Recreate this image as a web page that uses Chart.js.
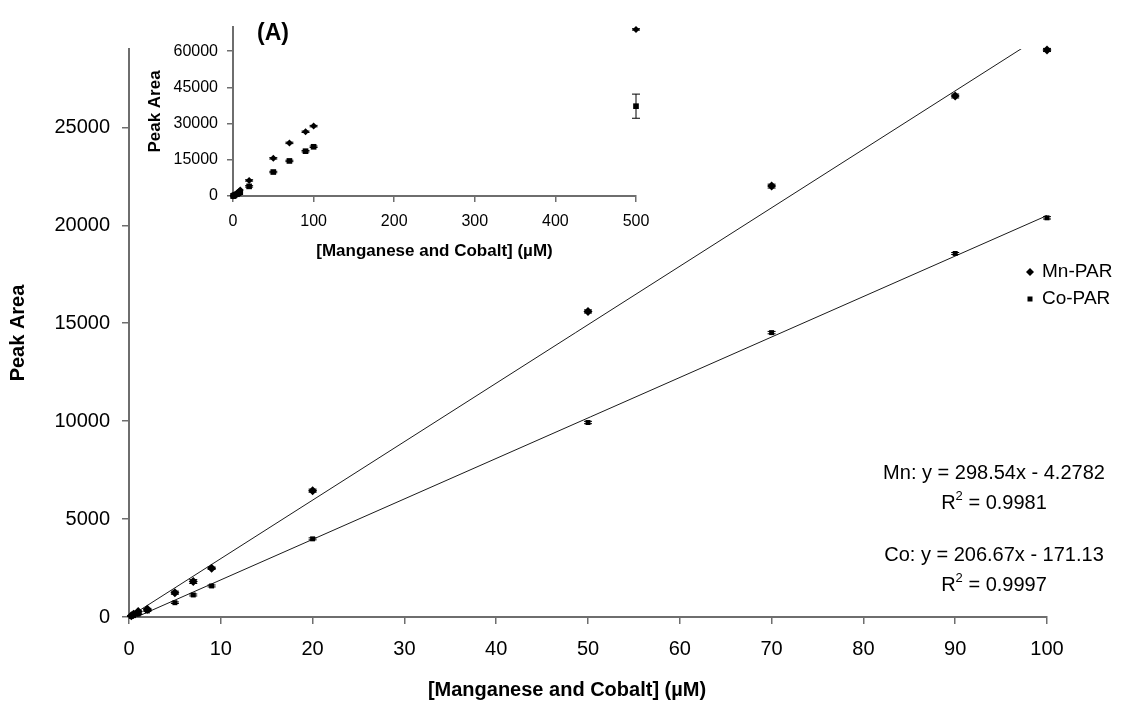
<!DOCTYPE html>
<html>
<head>
<meta charset="utf-8">
<script src="https://cdn.jsdelivr.net/npm/chart.js@4"></script>
<style>
  html, body { margin: 0; padding: 0; background: #fff; }
  #wrap { position: relative; width: 1136px; height: 709px; }
  #main { position: absolute; left: 0; top: 0; }
  #inset { position: absolute; left: 120px; top: 0; }
</style>
</head>
<body>
<div id="wrap">
  <canvas id="main" width="1136" height="709"></canvas>
  <canvas id="inset" width="540" height="270"></canvas>
</div>
<script>
// concentracoes (uM) e areas de pico
const concentracoes = [0.25, 0.5, 1, 2, 5, 7, 9, 20, 50, 70, 90, 100];
const mnArea = [60, 140, 280, 400, 1240, 1810, 2490, 6450, 15600, 22000, 26600, 28950];
const coArea = [30, 70, 150, 310, 730, 1125, 1585, 3990, 9930, 14520, 18560, 20380];
const mnErro = [10, 10, 20, 40, 80, 100, 60, 80, 80, 100, 100, 80];
const coErro = [10, 10, 20, 30, 40, 50, 50, 50, 60, 60, 50, 60];

// linhas de tendencia (extremos)
const tendX = [0, 100];
const mnTend = [-4.28, 29849.7];
const coTend = [-171.13, 20495.9];

// grafico (A) ate 500 uM
const insetConc = [0.25, 0.5, 1, 2, 5, 7, 9, 20, 50, 70, 90, 100, 500];
const insetMn = [60, 140, 280, 400, 1240, 1810, 2490, 6450, 15600, 22000, 26600, 28950, 69000];
const insetCo = [30, 70, 150, 310, 730, 1125, 1585, 3990, 9930, 14520, 18560, 20380, 37200];
const insetMnErro = [0, 0, 0, 0, 0, 0, 0, 300, 300, 300, 300, 300, 300];
const insetCoErro = [0, 0, 0, 0, 0, 0, 0, 300, 300, 300, 300, 300, 5000];

const xTicksMain = [0, 10, 20, 30, 40, 50, 60, 70, 80, 90, 100];
const yTicksMain = [0, 5000, 10000, 15000, 20000, 25000];
const xTicksInset = [0, 100, 200, 300, 400, 500];
const yTicksInset = [0, 15000, 30000, 45000, 60000];

const fam = '"Liberation Sans", Arial, sans-serif';
const corEixo = '#6e6e6e';

function pares(xs, ys) {
    return xs.map((x, i) => ({ x: x, y: ys[i] }));
}

const pluginErro = {
    id: 'barrasErro',
    afterDatasetsDraw(chart, args, opts) {
        const ctx = chart.ctx;
        const ey = chart.scales.y;
        chart.data.datasets.forEach((ds, i) => {
            if (!ds.erros) return;
            const meta = chart.getDatasetMeta(i);
            ctx.save();
            ctx.strokeStyle = '#000';
            ctx.lineWidth = 1;
            meta.data.forEach((pt, j) => {
                const e = ds.erros[j];
                if (!e) return;
                const v = ds.data[j].y;
                const y1 = ey.getPixelForValue(v - e);
                const y2 = ey.getPixelForValue(v + e);
                const w = opts.cap;
                ctx.beginPath();
                ctx.moveTo(pt.x, y1); ctx.lineTo(pt.x, y2);
                ctx.moveTo(pt.x - w, y1); ctx.lineTo(pt.x + w, y1);
                ctx.moveTo(pt.x - w, y2); ctx.lineTo(pt.x + w, y2);
                ctx.stroke();
            });
            ctx.restore();
        });
    }
};

function textoR2(ctx, cx, cy, valor) {
    const normal = '20px ' + fam;
    const sup = '13px ' + fam;
    ctx.font = normal;
    const wR = ctx.measureText('R').width;
    const wResto = ctx.measureText(' = ' + valor).width;
    ctx.font = sup;
    const w2 = ctx.measureText('2').width;
    let x = cx - (wR + w2 + wResto) / 2;
    ctx.textAlign = 'left';
    ctx.textBaseline = 'middle';
    ctx.font = normal;
    ctx.fillText('R', x, cy);
    x += wR;
    ctx.font = sup;
    ctx.fillText('2', x, cy - 7);
    x += w2;
    ctx.font = normal;
    ctx.fillText(' = ' + valor, x, cy);
}

const pluginTextos = {
    id: 'textosMain',
    afterDraw(chart) {
        const ctx = chart.ctx;
        ctx.save();
        ctx.fillStyle = '#000';
        ctx.textAlign = 'center';
        ctx.textBaseline = 'middle';
        ctx.font = 'bold 20px ' + fam;
        ctx.fillText('[Manganese and Cobalt] (\u00b5M)', 567, 690);

        // legenda
        ctx.beginPath();
        ctx.moveTo(1030, 268); ctx.lineTo(1034, 272); ctx.lineTo(1030, 276); ctx.lineTo(1026, 272);
        ctx.closePath();
        ctx.fill();
        ctx.fillRect(1027.5, 296.5, 5, 5);
        ctx.textAlign = 'left';
        ctx.font = '19px ' + fam;
        ctx.fillText('Mn-PAR', 1042, 272);
        ctx.fillText('Co-PAR', 1042, 299);

        // equacoes
        ctx.textAlign = 'center';
        ctx.font = '20px ' + fam;
        ctx.fillText('Mn: y = 298.54x - 4.2782', 994, 473);
        textoR2(ctx, 994, 503, '0.9981');
        ctx.textAlign = 'center';
        ctx.font = '20px ' + fam;
        ctx.fillText('Co: y = 206.67x - 171.13', 994, 555);
        textoR2(ctx, 994, 585, '0.9997');
        ctx.restore();
    }
};

const pluginLetra = {
    id: 'letraA',
    afterDraw(chart) {
        const ctx = chart.ctx;
        ctx.save();
        ctx.fillStyle = '#000';
        ctx.textAlign = 'center';
        ctx.textBaseline = 'middle';
        ctx.font = 'bold 23px ' + fam;
        ctx.fillText('(A)', 153, 34);
        ctx.restore();
    }
};

new Chart(document.getElementById('main'), {
    type: 'scatter',
    data: {
        datasets: [{
            label: 'Mn-PAR',
            data: pares(concentracoes, mnArea),
            erros: mnErro,
            pointStyle: 'rectRot',
            pointRadius: 4.5,
            backgroundColor: '#000',
            borderColor: '#000',
            borderWidth: 0,
            clip: false
        }, {
            label: 'Co-PAR',
            data: pares(concentracoes, coArea),
            erros: coErro,
            pointStyle: 'rect',
            pointRadius: 3.5,
            backgroundColor: '#000',
            borderColor: '#000',
            borderWidth: 0,
            clip: false
        }, {
            type: 'line',
            data: pares(tendX, mnTend),
            borderColor: '#1a1a1a',
            borderWidth: 1,
            pointRadius: 0,
            fill: false
        }, {
            type: 'line',
            data: pares(tendX, coTend),
            borderColor: '#1a1a1a',
            borderWidth: 1,
            pointRadius: 0,
            fill: false
        }]
    },
    options: {
        responsive: false,
        animation: false,
        layout: { padding: { left: 0, top: 49, right: 89, bottom: 0 } },
        plugins: {
            legend: { display: false },
            tooltip: { enabled: false },
            barrasErro: { cap: 4 }
        },
        scales: {
            x: {
                type: 'linear',
                min: 0,
                max: 100,
                afterBuildTicks: s => { s.ticks = xTicksMain.map(v => ({ value: v })); },
                afterFit: s => { s.height = 92; },
                grid: { drawOnChartArea: false, drawTicks: true, tickLength: 7, color: corEixo, lineWidth: 1.5 },
                border: { color: corEixo, width: 2 },
                ticks: { color: '#000', font: { family: fam, size: 20 }, padding: 13, maxRotation: 0, callback: v => String(v) }
            },
            y: {
                min: 0,
                max: 29000,
                afterBuildTicks: s => { s.ticks = yTicksMain.map(v => ({ value: v })); },
                afterFit: s => { s.width = 129; },
                grid: { drawOnChartArea: false, drawTicks: true, tickLength: 7, color: corEixo, lineWidth: 1.5 },
                border: { color: corEixo, width: 2 },
                ticks: { color: '#000', font: { family: fam, size: 20 }, padding: 12, callback: v => String(v) },
                title: {
                    display: true,
                    text: 'Peak Area',
                    color: '#000',
                    font: { family: fam, size: 20, weight: 'bold' },
                    padding: { top: 6, bottom: 0 }
                }
            }
        }
    },
    plugins: [pluginErro, pluginTextos]
});

new Chart(document.getElementById('inset'), {
    type: 'scatter',
    data: {
        datasets: [{
            label: 'Mn-PAR',
            data: pares(insetConc, insetMn),
            erros: insetMnErro,
            pointStyle: 'rectRot',
            pointRadius: 3.5,
            backgroundColor: '#000',
            borderColor: '#000',
            borderWidth: 0,
            clip: false
        }, {
            label: 'Co-PAR',
            data: pares(insetConc, insetCo),
            erros: insetCoErro,
            pointStyle: 'rect',
            pointRadius: 4,
            backgroundColor: '#000',
            borderColor: '#000',
            borderWidth: 0,
            clip: false
        }]
    },
    options: {
        responsive: false,
        animation: false,
        layout: { padding: { left: 0, top: 27, right: 24, bottom: 0 } },
        plugins: {
            legend: { display: false },
            tooltip: { enabled: false },
            barrasErro: { cap: 4 }
        },
        scales: {
            x: {
                type: 'linear',
                min: 0,
                max: 500,
                afterBuildTicks: s => { s.ticks = xTicksInset.map(v => ({ value: v })); },
                afterFit: s => { s.height = 74; },
                grid: { drawOnChartArea: false, drawTicks: true, tickLength: 6, color: corEixo, lineWidth: 1.5 },
                border: { color: corEixo, width: 2 },
                ticks: { color: '#000', font: { family: fam, size: 16 }, padding: 10, maxRotation: 0, callback: v => String(v) },
                title: {
                    display: true,
                    text: '[Manganese and Cobalt] (\u00b5M)',
                    color: '#000',
                    font: { family: fam, size: 17, weight: 'bold' },
                    padding: { top: 0, bottom: 8 }
                }
            },
            y: {
                min: 0,
                max: 70000,
                afterBuildTicks: s => { s.ticks = yTicksInset.map(v => ({ value: v })); },
                afterFit: s => { s.width = 113; },
                grid: { drawOnChartArea: false, drawTicks: true, tickLength: 6, color: corEixo, lineWidth: 1.5 },
                border: { color: corEixo, width: 2 },
                ticks: { color: '#000', font: { family: fam, size: 16 }, padding: 9, callback: v => String(v) },
                title: {
                    display: true,
                    text: 'Peak Area',
                    color: '#000',
                    font: { family: fam, size: 17, weight: 'bold' },
                    padding: { top: 25, bottom: 0 }
                }
            }
        }
    },
    plugins: [pluginErro, pluginLetra]
});
</script>
</body>
</html>
